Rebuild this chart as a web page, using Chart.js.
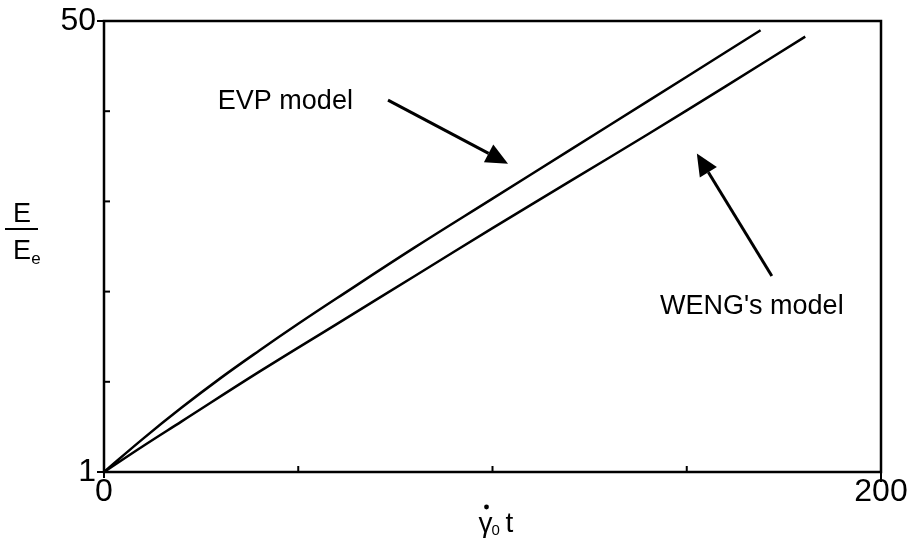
<!DOCTYPE html>
<html><head><meta charset="utf-8">
<script src="https://cdn.jsdelivr.net/npm/chart.js@4/dist/chart.umd.min.js"></script>
<style>html,body{margin:0;padding:0;background:#fff}#wrap{width:909px;height:543px;position:relative}</style>
</head><body><div id="wrap"><canvas id="c"></canvas></div>
<script>
// ---- data ----
const evpX  = [0, 10, 20, 30, 40, 50, 60, 80, 100, 120, 140, 160, 169];
const evpY  = [1, 4.6, 8.0, 11.2, 14.2, 17.1, 19.9, 25.4, 30.7, 36.0, 41.3, 46.6, 49.0];
const wengX = [0, 10, 20, 40, 60, 80, 100, 120, 140, 160, 180.5];
const wengY = [1, 3.8, 6.5, 11.9, 17.1, 22.3, 27.5, 32.6, 37.7, 42.9, 48.3];
const xTickValues = [0, 50, 100, 150, 200];
const yTickValues = [1, 10.8, 20.6, 30.4, 40.2, 50];
const xTickLabels = {0: '0', 200: '200'};
const yTickLabels = {1: '1', 50: '50'};
const annLabels = ['EVP model', "WENG's model"];
const annTextPos = [[29.3, 41.2], [143.1, 19.0]];
const annArrowFrom = [[73.1, 41.4], [171.9, 22.3]];
const annArrowTo = [[104, 34.5], [152.6, 35.6]];

const FONT = "'Liberation Sans', Arial, sans-serif";

function pts(xs, ys) { return xs.map((x, i) => ({x: x, y: ys[i]})); }

const decor = {
  id: 'decor',
  afterDraw(chart) {
    const ctx = chart.ctx, ca = chart.chartArea;
    const xs = chart.scales.x, ys = chart.scales.y;
    ctx.save();
    ctx.strokeStyle = '#000'; ctx.fillStyle = '#000';
    ctx.lineWidth = 2.5;
    ctx.strokeRect(ca.left, ca.top, ca.right - ca.left, ca.bottom - ca.top);
    // x ticks
    ctx.lineWidth = 2;
    xTickValues.forEach(v => {
      const px = xs.getPixelForValue(v);
      ctx.beginPath();
      if (v === xs.min) { ctx.moveTo(px, ca.bottom); ctx.lineTo(px, ca.bottom + 6); }
      else if (v === xs.max) { ctx.moveTo(px, ca.bottom); ctx.lineTo(px, ca.bottom + 10); }
      else { ctx.moveTo(px, ca.bottom); ctx.lineTo(px, ca.bottom - 6); }
      ctx.stroke();
    });
    yTickValues.forEach(v => {
      const py = ys.getPixelForValue(v);
      ctx.beginPath();
      if (v === ys.min || v === ys.max) { ctx.moveTo(ca.left, py); ctx.lineTo(ca.left - 7, py); }
      else { ctx.moveTo(ca.left, py); ctx.lineTo(ca.left + 6, py); }
      ctx.stroke();
    });
    // annotations
    ctx.font = '27px ' + FONT;
    ctx.textAlign = 'left'; ctx.textBaseline = 'middle';
    annLabels.forEach((t, i) => {
      ctx.fillText(t, xs.getPixelForValue(annTextPos[i][0]), ys.getPixelForValue(annTextPos[i][1]));
      const x1 = xs.getPixelForValue(annArrowFrom[i][0]), y1 = ys.getPixelForValue(annArrowFrom[i][1]);
      const x2 = xs.getPixelForValue(annArrowTo[i][0]), y2 = ys.getPixelForValue(annArrowTo[i][1]);
      const a = Math.atan2(y2 - y1, x2 - x1);
      const hl = 22, hw = 10;
      const bx = x2 - hl * Math.cos(a), by = y2 - hl * Math.sin(a);
      ctx.lineWidth = 3;
      ctx.beginPath(); ctx.moveTo(x1, y1); ctx.lineTo(bx, by); ctx.stroke();
      ctx.beginPath();
      ctx.moveTo(x2, y2);
      ctx.lineTo(bx + hw * Math.sin(a), by - hw * Math.cos(a));
      ctx.lineTo(bx - hw * Math.sin(a), by + hw * Math.cos(a));
      ctx.closePath(); ctx.fill();
    });
    // y-axis title: E / E_e
    ctx.textAlign = 'center'; ctx.textBaseline = 'alphabetic';
    ctx.font = '27px ' + FONT;
    ctx.fillText('E', 22, 222);
    ctx.lineWidth = 2;
    ctx.beginPath(); ctx.moveTo(5, 229); ctx.lineTo(38, 229); ctx.stroke();
    ctx.fillText('E', 22, 259);
    ctx.font = '17px ' + FONT;
    ctx.fillText('e', 36, 264);
    // x-axis title: gamma-dot_0 t
    const cx = (ca.left + ca.right) / 2;
    ctx.textAlign = 'left';
    ctx.font = '28px ' + FONT;
    const gx = cx - 14;
    ctx.fillText('\u03b3', gx, 532);
    const gw = ctx.measureText('\u03b3').width;
    ctx.beginPath(); ctx.arc(gx + gw / 2 + 1, 507, 2.4, 0, Math.PI * 2); ctx.fill();
    ctx.font = '15px ' + FONT;
    ctx.fillText('0', gx + gw - 1, 535);
    ctx.font = '28px ' + FONT;
    ctx.fillText('t', gx + gw + 13, 532);
    ctx.restore();
  }
};

new Chart(document.getElementById('c'), {
  type: 'line',
  data: {
    datasets: [
      {label: 'EVP model', data: pts(evpX, evpY), borderColor: '#000', borderWidth: 2.5, pointRadius: 0, tension: 0.4, fill: false},
      {label: "WENG's model", data: pts(wengX, wengY), borderColor: '#000', borderWidth: 2.5, pointRadius: 0, tension: 0.4, fill: false}
    ]
  },
  options: {
    responsive: true, maintainAspectRatio: false, animation: false,
    layout: {padding: {left: 0, top: 21, right: 28, bottom: 0}},
    plugins: {legend: {display: false}, tooltip: {enabled: false}},
    scales: {
      x: {
        type: 'linear', min: 0, max: 200,
        afterBuildTicks: s => { s.ticks = xTickValues.map(v => ({value: v})); },
        afterFit: s => { s.height = 71; s.paddingLeft = 0; s.paddingRight = 0; },
        grid: {display: false, drawTicks: false}, border: {display: false},
        ticks: {autoSkip: false, maxRotation: 0, padding: 1, color: '#000', font: {family: FONT, size: 32},
          callback: v => (xTickLabels[v] !== undefined ? xTickLabels[v] : '')}
      },
      y: {
        type: 'linear', min: 1, max: 50,
        afterBuildTicks: s => { s.ticks = yTickValues.map(v => ({value: v})); },
        afterFit: s => { s.width = 104; s.paddingTop = 0; s.paddingBottom = 0; },
        grid: {display: false, drawTicks: false}, border: {display: false},
        ticks: {autoSkip: false, padding: 8, color: '#000', font: {family: FONT, size: 32},
          callback: v => (yTickLabels[v] !== undefined ? yTickLabels[v] : '')}
      }
    }
  },
  plugins: [decor]
});
</script>
</body></html>
